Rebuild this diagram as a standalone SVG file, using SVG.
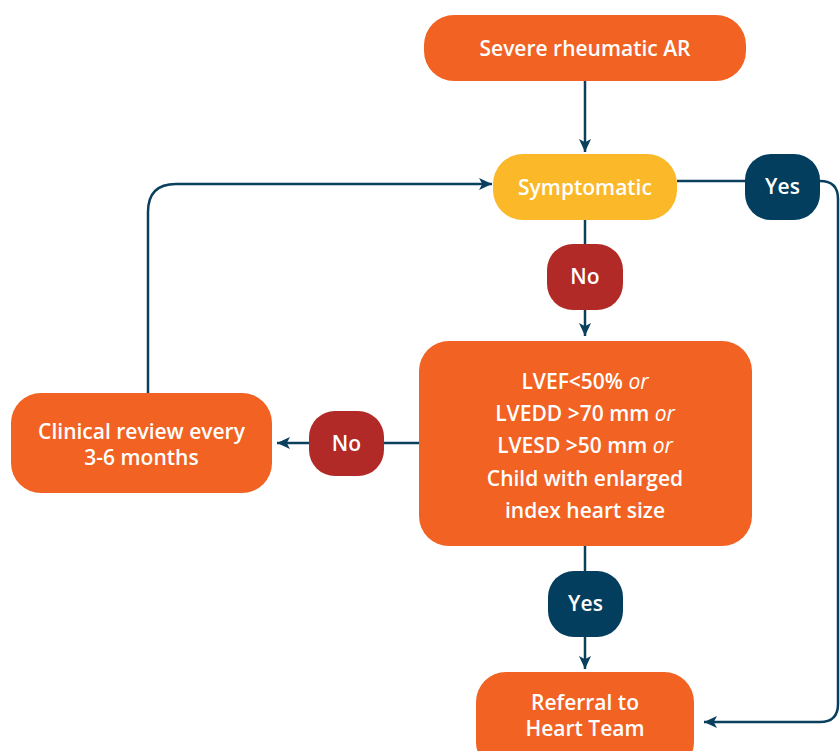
<svg xmlns="http://www.w3.org/2000/svg" width="840" height="751" viewBox="0 0 840 751">
  <defs>
    <marker id="arrow" viewBox="0 0 10 10" refX="10" refY="5" markerWidth="13" markerHeight="12" markerUnits="userSpaceOnUse" orient="auto" preserveAspectRatio="none">
      <path d="M0,0 L10,5 L0,10 L2.5,5 Z" fill="#0B3F5E"/>
    </marker>
    <style>
      .box { fill: #F16223; }
      .sym { fill: #FBB829; }
      .yes { fill: #033E5E; }
      .no { fill: #B12A27; }
      .lbl { font-family: "Open Sans", "Liberation Sans", sans-serif; font-weight: 600; font-size: 21px; fill: #FFFFFF; text-anchor: middle; }
      .or { font-style: italic; font-weight: 400; }
      .conn { fill: none; stroke: #0B3F5E; stroke-width: 2.5; }
    </style>
  </defs>
  <rect width="840" height="751" fill="#FFFFFF"/>

  <!-- connectors -->
  <g id="connectors">
    <path class="conn" d="M585,81 V152" marker-end="url(#arrow)"/>
    <path class="conn" d="M677,181 H745"/>
    <path class="conn" d="M820,181 Q838,181 838,199 V704 Q838,722 820,722 H704" marker-end="url(#arrow)"/>
    <path class="conn" d="M585,220 V245"/>
    <path class="conn" d="M585,310 V336" marker-end="url(#arrow)"/>
    <path class="conn" d="M419,443 H384"/>
    <path class="conn" d="M309,443 H277" marker-end="url(#arrow)"/>
    <path class="conn" d="M148,393 V212 Q148,184 176,184 H492" marker-end="url(#arrow)"/>
    <path class="conn" d="M585,546 V571"/>
    <path class="conn" d="M585,637 V669" marker-end="url(#arrow)"/>
  </g>

  <g id="severe-ar">
    <rect class="box" x="424" y="15" width="322" height="66" rx="30"/>
    <text class="lbl" x="585" y="56">Severe rheumatic AR</text>
  </g>

  <g id="symptomatic">
    <rect class="sym" x="493" y="154" width="184" height="66" rx="30"/>
    <text class="lbl" x="585" y="195">Symptomatic</text>
  </g>

  <g id="yes-symptomatic">
    <rect class="yes" x="745" y="154" width="75" height="66" rx="26"/>
    <text class="lbl" x="782.5" y="194">Yes</text>
  </g>

  <g id="no-symptomatic">
    <rect class="no" x="547" y="244" width="76" height="66" rx="26"/>
    <text class="lbl" x="585" y="284">No</text>
  </g>

  <g id="criteria">
    <rect class="box" x="419" y="341" width="333" height="205" rx="30"/>
    <text class="lbl" x="585" y="389">LVEF&lt;50% <tspan class="or">or</tspan></text>
    <text class="lbl" x="585" y="421">LVEDD &gt;70 mm <tspan class="or">or</tspan></text>
    <text class="lbl" x="585" y="453">LVESD &gt;50 mm <tspan class="or">or</tspan></text>
    <text class="lbl" x="585" y="486">Child with enlarged</text>
    <text class="lbl" x="585" y="518">index heart size</text>
  </g>

  <g id="no-criteria">
    <rect class="no" x="309" y="411" width="75" height="65" rx="26"/>
    <text class="lbl" x="346.5" y="451">No</text>
  </g>

  <g id="clinical-review">
    <rect class="box" x="11" y="393" width="261" height="100" rx="30"/>
    <text class="lbl" x="141.5" y="439">Clinical review every</text>
    <text class="lbl" x="141.5" y="465">3-6 months</text>
  </g>

  <g id="yes-criteria">
    <rect class="yes" x="548" y="571" width="75" height="66" rx="26"/>
    <text class="lbl" x="585.5" y="611">Yes</text>
  </g>

  <g id="heart-team">
    <rect class="box" x="476" y="672" width="218" height="100" rx="30"/>
    <text class="lbl" x="585" y="710">Referral to</text>
    <text class="lbl" x="585" y="736">Heart Team</text>
  </g>
</svg>
